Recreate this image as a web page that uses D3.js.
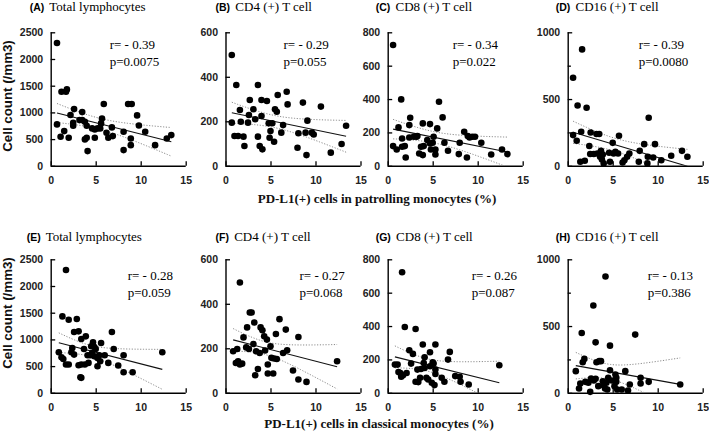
<!DOCTYPE html>
<html><head><meta charset="utf-8">
<script src="https://cdn.jsdelivr.net/npm/d3@7"></script>
<style>body{margin:0;background:#fff}svg{display:block}</style>
</head><body><svg id="c" width="709" height="432"></svg>
<script>
const panelLetters = ["(A)","(B)","(C)","(D)","(E)","(F)","(G)","(H)"];
const panelTitles = ["Total lymphocytes","CD4 (+) T cell","CD8 (+) T cell","CD16 (+) T cell",
                     "Total lymphocytes","CD4 (+) T cell","CD8 (+) T cell","CD16 (+) T cell"];
const rLabels = ["r= - 0.39","r= - 0.29","r= - 0.34","r= - 0.39","r= - 0.28","r= - 0.27","r= - 0.26","r= - 0.13"];
const pLabels = ["p=0.0075","p=0.055","p=0.022","p=0.0080","p=0.059","p=0.068","p=0.087","p=0.386"];
const yMaxes = [2500,600,800,1000,2500,600,800,1000];
const yTickSets = [[0,500,1000,1500,2000,2500],[0,200,400,600],[0,200,400,600,800],[0,500,1000],
                   [0,500,1000,1500,2000,2500],[0,200,400,600],[0,200,400,600,800],[0,500,1000]];
const yMinorTickSets = [[],[],[],[250,750],[],[],[],[250,750]];
const xTicks = [0,5,10,15];
const xAxisLabels = ["PD-L1(+) cells in patrolling monocytes (%)","PD-L1(+) cells in classical monocytes (%)"];
const yAxisLabel = "Cell count (/mm3)";

const aX = [0.7,0.7,1.1,1.2,1.7,1.8,1.5,2.0,2.2,2.6,2.5,2.5,3.2,3.5,3.5,3.8,4.0,3.8,4.0,4.1,4.6,4.9,4.9,5.2,5.5,5.6,5.7,5.9,6.2,6.4,6.8,6.9,8.1,8.1,8.6,9.0,8.9,8.9,9.6,9.8,10.5,11.6,12.9,13.4];
const aY = [2300,775,544,1387,1387,1431,650,525,950,1062,806,750,856,1006,856,825,750,494,525,275,700,681,525,700,700,794,887,1156,619,525,719,556,294,637,1156,1156,512,387,944,756,637,387,512,575];
const bX = [0.7,0.7,1.2,1.0,1.4,1.6,1.7,2.0,2.1,2.5,2.6,2.7,3.1,3.3,3.6,3.6,3.8,4.0,4.0,4.1,4.6,4.8,4.9,5.0,5.2,5.4,5.5,5.7,5.8,6.2,6.4,6.8,6.9,8.0,8.1,8.6,8.9,9.0,9.1,9.6,9.8,10.6,11.7,12.9,13.4];
const bY = [498,194,363,134,134,251,198,131,89,194,228,296,254,209,363,131,89,296,224,74,291,191,126,156,191,108,254,243,318,149,183,333,276,81,146,284,149,48,203,149,141,266,59,98,180];
const cX = [0.6,0.6,1.0,1.2,1.5,1.6,1.6,1.9,2.0,2.4,2.4,2.5,2.9,3.2,3.3,3.5,3.7,3.9,3.9,4.0,4.4,4.7,4.7,4.8,5.0,5.1,5.3,5.3,5.5,5.7,6.1,6.3,6.7,7.9,8.0,8.5,8.9,8.8,9.1,9.4,9.7,10.4,11.5,12.7,13.3];
const cY = [724,118,98,230,398,164,114,118,50,170,244,288,174,174,178,74,114,254,64,118,154,250,134,98,138,174,98,68,224,384,290,138,90,70,138,204,178,50,170,174,174,138,68,98,70];
const dX = [1.6,0.6,1.1,2.1,0.6,1.0,1.5,1.4,1.9,2.4,2.55,2.5,2.9,3.2,3.5,3.3,3.6,3.7,3.8,4.0,3.9,4.7,4.6,5.0,5.1,5.3,5.6,5.7,6.1,6.3,6.6,6.85,7.9,8.0,8.5,8.9,9.0,8.85,9.5,9.7,10.4,11.5,12.7,13.3];
const dY = [872,660,452,435,230,188,255,30,38,148,250,88,88,238,238,92,68,112,48,18,85,30,98,172,92,105,92,225,25,42,68,92,30,112,162,68,360,18,62,162,42,75,112,68];
const eX = [1.7,0.9,1.2,1.4,1.3,1.7,2.0,2.0,2.3,2.4,2.6,2.6,2.9,3.1,3.1,3.3,3.4,3.4,3.4,3.7,3.8,3.9,4.1,4.2,4.4,4.5,4.6,4.7,4.85,4.85,5.0,5.2,5.2,5.4,5.5,5.6,6.0,6.4,6.8,7.0,7.5,8.1,8.1,9.1,12.4];
const eY = [2300,759,666,634,1431,529,529,1368,759,840,715,1138,1381,1151,516,292,280,1008,529,821,529,1057,703,560,703,871,746,945,684,858,821,653,498,703,591,933,703,560,1138,821,510,386,703,386,759];
const fX = [1.6,0.85,1.3,1.15,1.4,1.6,1.85,2.0,2.3,2.4,2.6,2.7,2.9,3.1,3.2,3.3,3.4,3.6,3.8,3.9,4.1,4.3,4.4,4.6,4.7,4.7,5.0,5.1,5.3,5.4,5.6,5.7,6.0,6.4,6.7,6.85,7.5,8.1,8.1,9.0,12.4];
const fY = [496,187,197,134,142,127,131,249,204,294,197,361,361,219,316,79,187,107,179,294,281,254,190,239,127,87,209,157,87,154,264,152,331,179,284,191,100,251,60,49,142];
const gX = [1.6,0.8,1.1,1.2,1.4,1.5,1.9,1.7,2.1,2.4,2.6,2.8,3.1,3.1,3.3,3.4,3.6,3.7,3.9,4.0,4.1,4.1,4.3,4.5,4.7,4.7,4.9,5.0,5.2,5.1,5.3,5.3,5.3,6.0,6.3,6.7,6.9,7.5,8.0,8.1,9.0,12.4];
const gY = [722,169,169,125,119,96,394,105,119,255,175,233,382,66,139,64,90,143,289,179,213,149,90,80,243,159,60,183,46,175,289,139,113,90,66,199,245,100,96,66,50,165];
const hX = [4.2,2.85,1.56,3.1,4.7,7.5,0.9,1.67,1.85,1.26,1.4,1.96,2.3,2.5,2.6,2.9,3.1,3.2,3.5,3.4,3.7,3.9,3.96,4.15,4.3,4.5,4.4,4.7,4.9,5.2,5.3,5.4,5.4,5.5,6.0,6.4,6.7,6.9,8.1,8.1,9.0,12.5];
const hY = [871,654,448,378,353,436,162,229,254,32,70,82,75,7,107,92,105,229,237,50,237,87,57,32,75,112,25,169,92,50,137,112,82,25,25,162,17,62,112,70,82,62];

const seriesX = [aX,bX,cX,dX,eX,fX,gX,hX];
const seriesY = [aY,bY,cY,dY,eY,fY,gY,hY];

// layout
const colLeft = [50.7, 225.5, 387.7, 567.7];
const rowTop = [32.3, 259.3];
const plotW = 135, plotH = 133.5;
const titleOffset = [-21,-10,-12,-12,-24,-10,-12,-12];
const titleBase = [11, 240.5];
const annOffset = [59,58,65,71,77,74,84,80];
const annBase = [[17,34],[20.5,37.5]];
const yLabelCenter = [96, 313];
const xLabelBase = [203, 427.5];
const xLabelCenter = [377, 379];

const svg = d3.select("#c");
const sansBold = "Liberation Sans, Arial, sans-serif";
const serif = "Liberation Serif, Times New Roman, serif";

function regression(xs, ys) {
  const n = xs.length;
  const mx = d3.mean(xs), my = d3.mean(ys);
  let sxx = 0, sxy = 0;
  for (let i = 0; i < n; i++) { sxx += (xs[i]-mx)**2; sxy += (xs[i]-mx)*(ys[i]-my); }
  const b = sxy / sxx, a = my - b*mx;
  let sse = 0;
  for (let i = 0; i < n; i++) sse += (ys[i] - (a + b*xs[i]))**2;
  const s = Math.sqrt(sse/(n-2));
  const t = 2.017;
  return {a, b, f: x => a + b*x, half: x => t*s*Math.sqrt(1/n + (x-mx)**2/sxx)};
}

for (let p = 0; p < 8; p++) {
  const row = Math.floor(p/4), col = p % 4;
  const left = colLeft[col], top = rowTop[row];
  const x = d3.scaleLinear().domain([0,15]).range([left, left+plotW]);
  const y = d3.scaleLinear().domain([0,yMaxes[p]]).range([top+plotH, top]);
  const g = svg.append("g");
  const clipId = "clip"+p;
  svg.append("clipPath").attr("id", clipId).append("rect")
    .attr("x", left).attr("y", top).attr("width", plotW).attr("height", plotH);

  // axes
  const xAxis = d3.axisBottom(x).tickValues(xTicks).tickSize(-4.5).tickPadding(10.5).tickFormat(d3.format("d"));
  const gx = g.append("g").attr("transform", `translate(0,${top+plotH})`).call(xAxis);
  const yAxis = d3.axisLeft(y).tickValues(yTickSets[p]).tickSize(-4.5).tickPadding(7.5).tickFormat(d3.format("d"));
  const gy = g.append("g").attr("transform", `translate(${left},0)`).call(yAxis);
  if (yMinorTickSets[p].length) {
    g.append("g").attr("transform", `translate(${left},0)`)
      .call(d3.axisLeft(y).tickValues(yMinorTickSets[p]).tickSize(-3.2).tickFormat(""))
      .select(".domain").remove();
  }
  g.selectAll(".domain").attr("stroke","#000").attr("stroke-width",1.4);
  g.selectAll(".tick line").attr("stroke","#000").attr("stroke-width",1.3);
  [gx, gy].forEach(a => a.selectAll("text").attr("font-family", sansBold).attr("font-weight","bold")
    .attr("font-size", 10.5).attr("fill","#222"));
  gy.selectAll(".domain").attr("d", `M0.5,${top+plotH}V${top}`);
  gx.selectAll(".domain").attr("d", `M${left},0.5H${left+plotW}`);

  // regression
  const xs = seriesX[p], ys = seriesY[p];
  const reg = regression(xs, ys);
  const x0 = d3.min(xs), x1 = d3.max(xs);
  const grid = d3.range(0, 61).map(i => x0 + (x1-x0)*i/60);
  const lg = g.append("g").attr("clip-path", `url(#${clipId})`);
  const line = d3.line().x(d => x(d[0])).y(d => y(d[1]));
  lg.append("path").attr("d", line(grid.map(v => [v, reg.f(v) + reg.half(v)])))
    .attr("fill","none").attr("stroke","#8a8a8a").attr("stroke-width",1).attr("stroke-dasharray","1.2,1.6");
  lg.append("path").attr("d", line(grid.map(v => [v, reg.f(v) - reg.half(v)])))
    .attr("fill","none").attr("stroke","#8a8a8a").attr("stroke-width",1).attr("stroke-dasharray","1.2,1.6");
  lg.append("path").attr("d", line([[x0, reg.f(x0)],[x1, reg.f(x1)]]))
    .attr("fill","none").attr("stroke","#111").attr("stroke-width",1.1);

  // points
  g.append("g").selectAll("circle").data(xs.map((v,i)=>[v, ys[i]])).join("circle")
    .attr("cx", d => x(d[0])).attr("cy", d => y(d[1])).attr("r", 3.3).attr("fill","#000");

  // title
  const tt = g.append("text").attr("x", left + titleOffset[p]).attr("y", titleBase[row]);
  tt.append("tspan").text(panelLetters[p]).attr("font-family", sansBold).attr("font-weight","bold").attr("font-size",10.5);
  tt.append("tspan").text(" " + panelTitles[p]).attr("font-family", serif).attr("font-size",13).attr("dx",2);

  // annotation
  g.append("text").attr("x", left + annOffset[p]).attr("y", top + annBase[row][0])
    .attr("font-family", serif).attr("font-size", 13).text(rLabels[p]);
  g.append("text").attr("x", left + annOffset[p]).attr("y", top + annBase[row][1])
    .attr("font-family", serif).attr("font-size", 13).text(pLabels[p]);
}

for (let r = 0; r < 2; r++) {
  svg.append("text").attr("transform", `translate(12.3,${yLabelCenter[r]}) rotate(-90)`)
    .attr("text-anchor","middle").attr("font-family", sansBold).attr("font-weight","bold")
    .attr("font-size",13.3).attr("fill","#111").text(yAxisLabel);
  svg.append("text").attr("x", xLabelCenter[r]).attr("y", xLabelBase[r]).attr("text-anchor","middle")
    .attr("font-family", serif).attr("font-weight","bold").attr("font-size",13).attr("fill","#111")
    .text(xAxisLabels[r]);
}
</script></body></html>
